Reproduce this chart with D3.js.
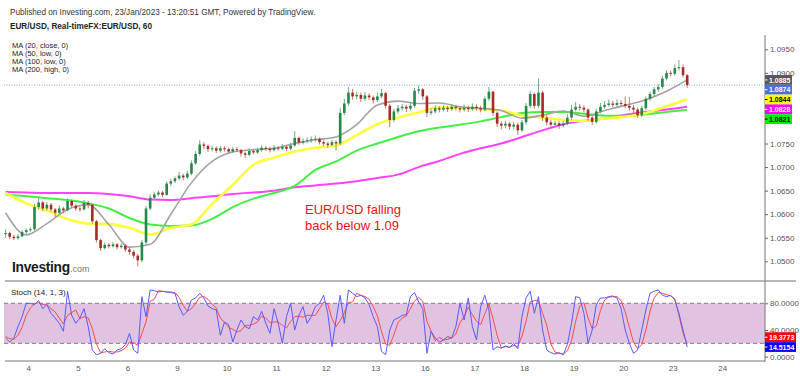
<!DOCTYPE html>
<html>
<head>
<meta charset="utf-8">
<script src="https://d3js.org/d3.v7.min.js"></script>
<style>
  body { margin: 0; background: #fff; }
  svg { display: block; font-family: Arial, "Liberation Sans", sans-serif; }
  .axis text { font-size: 8px; fill: #555; }
  .axis line { stroke: #666; }
</style>
</head>
<body>
<div id="chart"></div>
<script>
// trading days shown on the time axis
const days = ['4', '5', '6', '9', '10', '11', '12', '13', '16', '17', '18', '19', '20', '23', '24'];

// 2-hour candles (open = previous close)
const firstOpen = 1.0558;
const closes = [
  1.0560, 1.0552, 1.0549, 1.0553, 1.0562, 1.0566, 1.0568, 1.0615, 1.0625, 1.0612,
  1.0620, 1.0610, 1.0603, 1.0612, 1.0608, 1.0628, 1.0618, 1.0612, 1.0610, 1.0624,
  1.0620, 1.0585, 1.0545, 1.0528, 1.0535, 1.0532, 1.0536, 1.0530, 1.0533, 1.0525,
  1.0520, 1.0512, 1.0502, 1.0540, 1.0612, 1.0635, 1.0642, 1.0646, 1.0641, 1.0665,
  1.0670, 1.0676, 1.0682, 1.0678, 1.0686, 1.0708, 1.0728, 1.0748, 1.0745, 1.0738,
  1.0740, 1.0735, 1.0740, 1.0738, 1.0733, 1.0738, 1.0736, 1.0729, 1.0726, 1.0734,
  1.0731, 1.0736, 1.0741, 1.0739, 1.0736, 1.0741, 1.0739, 1.0743, 1.0739, 1.0746,
  1.0762, 1.0752, 1.0755, 1.0757, 1.0759, 1.0760, 1.0753, 1.0750, 1.0747, 1.0753,
  1.0750, 1.0815, 1.0835, 1.0858, 1.0850, 1.0853, 1.0845, 1.0852, 1.0848, 1.0842,
  1.0850, 1.0857, 1.0830, 1.0800, 1.0818, 1.0825, 1.0828, 1.0824, 1.0830, 1.0862,
  1.0865, 1.0850, 1.0815, 1.0818, 1.0825, 1.0822, 1.0826, 1.0823, 1.0828, 1.0825,
  1.0822, 1.0826, 1.0823, 1.0828, 1.0825, 1.0822, 1.0845, 1.0860, 1.0815, 1.0792,
  1.0788, 1.0792, 1.0786, 1.0790, 1.0778, 1.0795, 1.0830, 1.0855, 1.0830, 1.0858,
  1.0805, 1.0795, 1.0790, 1.0793, 1.0788, 1.0792, 1.0805, 1.0822, 1.0828, 1.0826,
  1.0822, 1.0805, 1.0796, 1.0818, 1.0828, 1.0832, 1.0835, 1.0832, 1.0836, 1.0834,
  1.0830, 1.0826, 1.0822, 1.0810, 1.0825, 1.0845, 1.0855, 1.0865, 1.0870, 1.0888,
  1.0900, 1.0898, 1.0910, 1.0912, 1.0895, 1.0874
];
const highs = [
  1.0568, 1.0563, 1.0556, 1.0558, 1.0566, 1.0570, 1.0572, 1.0622, 1.0634, 1.0628,
  1.0626, 1.0624, 1.0613, 1.0618, 1.0616, 1.0634, 1.0631, 1.0621, 1.0617, 1.0630,
  1.0628, 1.0622, 1.0588, 1.0548, 1.0540, 1.0539, 1.0541, 1.0539, 1.0538, 1.0536,
  1.0530, 1.0524, 1.0516, 1.0545, 1.0618, 1.0642, 1.0647, 1.0650, 1.0649, 1.0670,
  1.0675, 1.0680, 1.0690, 1.0686, 1.0692, 1.0714, 1.0734, 1.0757, 1.0753, 1.0748,
  1.0746, 1.0744, 1.0745, 1.0744, 1.0741, 1.0743, 1.0742, 1.0739, 1.0733, 1.0740,
  1.0738, 1.0741, 1.0746, 1.0745, 1.0743, 1.0747, 1.0744, 1.0749, 1.0747, 1.0752,
  1.0776, 1.0765, 1.0761, 1.0763, 1.0765, 1.0767, 1.0763, 1.0757, 1.0754, 1.0758,
  1.0757, 1.0826, 1.0845, 1.0870, 1.0866, 1.0860, 1.0858, 1.0860, 1.0857, 1.0852,
  1.0858, 1.0866, 1.0860, 1.0834, 1.0824, 1.0832, 1.0834, 1.0832, 1.0838, 1.0868,
  1.0873, 1.0868, 1.0853, 1.0825, 1.0831, 1.0829, 1.0832, 1.0830, 1.0834, 1.0832,
  1.0829, 1.0833, 1.0830, 1.0835, 1.0833, 1.0830, 1.0850, 1.0870, 1.0862, 1.0818,
  1.0797, 1.0798, 1.0796, 1.0796, 1.0794, 1.0800, 1.0836, 1.0862, 1.0858, 1.0888,
  1.0862, 1.0810, 1.0800, 1.0798, 1.0797, 1.0798, 1.0812, 1.0832, 1.0838, 1.0834,
  1.0831, 1.0825, 1.0810, 1.0824, 1.0836, 1.0840, 1.0843, 1.0841, 1.0844, 1.0842,
  1.0850, 1.0848, 1.0832, 1.0826, 1.0830, 1.0850, 1.0860, 1.0870, 1.0876, 1.0894,
  1.0906, 1.0905, 1.0918, 1.0927, 1.0918, 1.0898
];
const lows = [
  1.0550, 1.0547, 1.0545, 1.0546, 1.0551, 1.0558, 1.0563, 1.0565, 1.0610, 1.0606,
  1.0608, 1.0605, 1.0594, 1.0600, 1.0602, 1.0606, 1.0613, 1.0607, 1.0605, 1.0608,
  1.0612, 1.0580, 1.0540, 1.0522, 1.0525, 1.0527, 1.0529, 1.0525, 1.0527, 1.0520,
  1.0514, 1.0506, 1.0489, 1.0498, 1.0536, 1.0608, 1.0630, 1.0638, 1.0636, 1.0639,
  1.0660, 1.0666, 1.0672, 1.0672, 1.0675, 1.0683, 1.0704, 1.0724, 1.0738, 1.0732,
  1.0733, 1.0730, 1.0731, 1.0733, 1.0728, 1.0730, 1.0731, 1.0722, 1.0719, 1.0723,
  1.0727, 1.0728, 1.0733, 1.0734, 1.0731, 1.0733, 1.0735, 1.0736, 1.0734, 1.0736,
  1.0743, 1.0747, 1.0748, 1.0750, 1.0752, 1.0754, 1.0748, 1.0744, 1.0741, 1.0744,
  1.0735, 1.0746, 1.0810, 1.0830, 1.0843, 1.0844, 1.0838, 1.0840, 1.0842, 1.0835,
  1.0838, 1.0846, 1.0824, 1.0785, 1.0796, 1.0813, 1.0820, 1.0817, 1.0820, 1.0826,
  1.0855, 1.0843, 1.0806, 1.0810, 1.0814, 1.0816, 1.0818, 1.0817, 1.0819, 1.0820,
  1.0816, 1.0818, 1.0817, 1.0820, 1.0820, 1.0816, 1.0819, 1.0840, 1.0808, 1.0785,
  1.0780, 1.0782, 1.0779, 1.0780, 1.0768, 1.0774, 1.0790, 1.0825, 1.0824, 1.0826,
  1.0798, 1.0788, 1.0784, 1.0785, 1.0781, 1.0784, 1.0789, 1.0800, 1.0818, 1.0820,
  1.0816, 1.0798, 1.0789, 1.0792, 1.0814, 1.0824, 1.0828, 1.0826, 1.0828, 1.0829,
  1.0825, 1.0820, 1.0815, 1.0804, 1.0806, 1.0820, 1.0840, 1.0850, 1.0860, 1.0866,
  1.0884, 1.0893, 1.0894, 1.0905, 1.0890, 1.0868
];

// moving averages, read every 5th candle
const maBars = [0, 5, 10, 15, 20, 25, 30, 35, 40, 45, 50, 55, 60, 65, 70, 75, 80,
  85, 90, 95, 100, 105, 110, 115, 120, 125, 130, 135, 140, 145, 150, 155, 160, 165];
const ma20 = [1.0603, 1.0556, 1.0580, 1.0610, 1.0620, 1.0578, 1.0530, 1.0536, 1.0600, 1.0667,
  1.0712, 1.0732, 1.0737, 1.0740, 1.0750, 1.0758, 1.0764, 1.0790, 1.0832, 1.0840,
  1.0835, 1.0836, 1.0828, 1.0825, 1.0820, 1.0804, 1.0810, 1.0819, 1.0808, 1.0820,
  1.0831, 1.0843, 1.0861, 1.0885];
const ma50 = [1.0645, 1.0623, 1.0608, 1.0590, 1.0580, 1.0579, 1.0571, 1.0557, 1.0571, 1.0578,
  1.0622, 1.0662, 1.0705, 1.0720, 1.0733, 1.0741, 1.0746, 1.0768, 1.0791, 1.0805,
  1.0816, 1.0827, 1.0826, 1.0823, 1.0820, 1.0810, 1.0805, 1.0800, 1.0798, 1.0803,
  1.0807, 1.0815, 1.0829, 1.0844];
const ma100 = [1.0641, 1.0638, 1.0634, 1.0630, 1.0623, 1.0612, 1.0592, 1.0578, 1.0575, 1.0576,
  1.0590, 1.0615, 1.0633, 1.0645, 1.0660, 1.0694, 1.0712, 1.0735, 1.0750, 1.0764,
  1.0776, 1.0784, 1.0790, 1.0797, 1.0806, 1.0815, 1.0817, 1.0817, 1.0813, 1.0809,
  1.0809, 1.0812, 1.0817, 1.0821];
const ma200 = [1.0647, 1.0646, 1.0645, 1.0645, 1.0645, 1.0643, 1.0638, 1.0631, 1.0630, 1.0634,
  1.0638, 1.0643, 1.0646, 1.0650, 1.0657, 1.0661, 1.0665, 1.0670, 1.0677, 1.0684,
  1.0700, 1.0713, 1.0728, 1.0740, 1.0750, 1.0764, 1.0778, 1.0791, 1.0798, 1.0803,
  1.0811, 1.0817, 1.0822, 1.0828];

// stochastic (14, 1, 3): %K blue, %D red, one value per candle
const stochK = [
  28, 22, 28, 45, 60, 80, 80, 78, 84, 72, 78, 65, 58, 50, 38, 98, 62, 50, 58, 72,
  45, 10, 3, 5, 12, 6, 4, 10, 12, 18, 35, 10, 5, 90, 60, 100, 99, 97, 98, 97,
  96, 95, 75, 62, 68, 85, 88, 95, 88, 76, 72, 70, 32, 52, 48, 22, 40, 55, 45, 42,
  60, 55, 68, 50, 35, 72, 50, 20, 60, 80, 40, 62, 75, 50, 60, 75, 80, 92, 65, 15,
  55, 92, 50, 100, 95, 90, 92, 88, 78, 60, 45, 8, 3, 40, 55, 58, 62, 63, 90, 96,
  82, 72, 5, 38, 28, 22, 25, 30, 28, 45, 80, 55, 88, 45, 25, 75, 92, 70, 10, 15,
  13, 16, 14, 20, 12, 60, 88, 98, 65, 90, 40, 10, 6, 4, 6, 3, 18, 50, 90, 88,
  65, 20, 40, 78, 88, 88, 90, 91, 88, 72, 40, 20, 5, 10, 40, 70, 95, 98, 100, 92,
  90, 92, 85, 65, 40, 14.5154
];
const stochD = [
  30, 27, 26, 32, 44, 62, 73, 79, 81, 78, 78, 72, 67, 58, 49, 62, 66, 70, 57, 60,
  58, 42, 19, 6, 7, 8, 7, 7, 9, 13, 22, 21, 17, 35, 52, 83, 86, 99, 98, 97,
  97, 96, 89, 77, 68, 72, 80, 89, 90, 86, 79, 73, 58, 51, 44, 41, 37, 39, 47, 47,
  49, 52, 61, 58, 51, 52, 52, 47, 43, 53, 60, 61, 59, 62, 62, 62, 72, 82, 79, 57,
  45, 54, 66, 81, 82, 95, 92, 90, 86, 75, 61, 38, 19, 17, 33, 51, 58, 61, 72, 83,
  89, 83, 53, 38, 24, 29, 25, 26, 28, 34, 51, 60, 74, 63, 53, 48, 64, 79, 57, 32,
  13, 15, 14, 17, 15, 31, 53, 82, 84, 84, 65, 47, 19, 7, 5, 4, 9, 24, 53, 76,
  81, 58, 42, 46, 69, 85, 89, 90, 90, 84, 67, 44, 22, 12, 18, 40, 68, 88, 96, 95,
  93, 91, 87, 62, 35, 19.3773
];

// price ticks left visible by the value tags
const priceTicks = [1.0500, 1.0550, 1.0600, 1.0650, 1.0700, 1.0750, 1.0900, 1.0950];
const stochTicks = [0, 40, 80];
const maLegend = ['MA (20, close, 0)', 'MA (50, low, 0)', 'MA (100, low, 0)', 'MA (200, high, 0)'];

class PriceChart {
  constructor(_config) {
    this.config = {
      parentElement: _config.parentElement,
      containerWidth: 800,
      containerHeight: 376,
      left: 4,
      axisX: 765,
      priceTop: 35,
      paneSplit: 281,
      bottom: 361,
    };
    this.initVis();
  }

  initVis() {
    let vis = this;
    const c = vis.config;

    vis.svg = d3.select(c.parentElement).append('svg')
      .attr('width', c.containerWidth)
      .attr('height', c.containerHeight);

    // trading hours since the start of the 4th, 24 per trading day
    vis.xScale = d3.scaleLinear().domain([0, 336]).range([28.3, 722.3]);
    vis.yScale = d3.scaleLinear().domain([1.05, 1.095]).range([261.3, 49.3]);
    vis.sScale = d3.scaleLinear().domain([0, 80]).range([356.7, 303.3]);
    vis.barHour = i => -12 + 2 * i + 1;

    vis.svg.append('clipPath').attr('id', 'clipMain').append('rect')
      .attr('x', c.left).attr('y', c.priceTop)
      .attr('width', c.axisX - c.left).attr('height', c.paneSplit - c.priceTop);
    vis.svg.append('clipPath').attr('id', 'clipStoch').append('rect')
      .attr('x', c.left).attr('y', c.paneSplit)
      .attr('width', c.axisX - c.left).attr('height', c.bottom - c.paneSplit);

    vis.main = vis.svg.append('g').attr('clip-path', 'url(#clipMain)');
    vis.stoch = vis.svg.append('g').attr('clip-path', 'url(#clipStoch)');

    vis.candles = closes.map((close, i) => ({
      hour: vis.barHour(i),
      open: i === 0 ? firstOpen : closes[i - 1],
      close: close,
      high: highs[i],
      low: lows[i],
    }));

    vis.renderVis();
  }

  renderVis() {
    let vis = this;
    const c = vis.config;
    const x = vis.xScale, y = vis.yScale, s = vis.sScale;

    // header texts
    vis.svg.append('text').attr('x', 10).attr('y', 14.5)
      .attr('font-size', 8.2).attr('fill', '#333')
      .text('Published on Investing.com, 23/Jan/2023 - 13:20:51 GMT, Powered by TradingView.');
    vis.svg.append('text').attr('x', 10).attr('y', 28.5)
      .attr('font-size', 8.2).attr('font-weight', 'bold').attr('fill', '#222')
      .text('EUR/USD, Real-timeFX:EUR/USD, 60');
    vis.svg.selectAll('.legend').data(maLegend).join('text')
      .attr('class', 'legend')
      .attr('x', 12).attr('y', (d, i) => 47.5 + i * 8.3)
      .attr('font-size', 7.5).attr('fill', '#222')
      .text(d => d);

    // current price dotted line
    const last = vis.candles[vis.candles.length - 1];
    vis.main.append('line')
      .attr('x1', c.left).attr('x2', c.axisX)
      .attr('y1', y(last.close)).attr('y2', y(last.close))
      .attr('stroke', '#8aa4e6').attr('stroke-width', 1)
      .attr('stroke-dasharray', '1,1.5');

    // moving averages
    const maLine = d3.line()
      .x((d, i) => x(vis.barHour(maBars[i])))
      .y(d => y(d))
      .curve(d3.curveMonotoneX);
    const maStyles = [
      { data: ma200, color: '#ff40ff', width: 2 },
      { data: ma100, color: '#44ee44', width: 2 },
      { data: ma50, color: '#ffff3c', width: 2.6 },
      { data: ma20, color: '#a3a3a3', width: 1.6 },
    ];
    vis.main.selectAll('.ma').data(maStyles).join('path')
      .attr('class', 'ma')
      .attr('d', d => maLine(d.data))
      .attr('fill', 'none')
      .attr('stroke', d => d.color)
      .attr('stroke-width', d => d.width);

    // candles
    const up = d => d.close >= d.open;
    const candle = vis.main.selectAll('.candle').data(vis.candles).join('g')
      .attr('class', 'candle');
    candle.append('line')
      .attr('x1', d => x(d.hour)).attr('x2', d => x(d.hour))
      .attr('y1', d => y(d.high)).attr('y2', d => y(d.low))
      .attr('stroke', d => up(d) ? '#6fae82' : '#c07a74')
      .attr('stroke-width', 1);
    candle.append('rect')
      .attr('x', d => x(d.hour) - 1.3)
      .attr('width', 2.6)
      .attr('y', d => y(Math.max(d.open, d.close)))
      .attr('height', d => Math.max(1, Math.abs(y(d.open) - y(d.close))))
      .attr('fill', d => up(d) ? '#25874a' : '#a82a22');

    // annotation
    vis.svg.append('text').attr('x', 305).attr('y', 214)
      .attr('font-size', 13).attr('fill', '#ee1111')
      .text('EUR/USD falling');
    vis.svg.append('text').attr('x', 305).attr('y', 229.5)
      .attr('font-size', 13).attr('fill', '#ee1111')
      .text('back below 1.09');

    // logo
    const logo = vis.svg.append('text').attr('x', 12).attr('y', 271.5);
    logo.append('tspan').attr('font-size', 13.8).attr('font-weight', 'bold')
      .attr('fill', '#1a1a1a').attr('letter-spacing', -0.3).text('Investing');
    logo.append('tspan').attr('font-size', 9).attr('fill', '#777').text('.com');

    // stochastic pane
    vis.stoch.append('rect')
      .attr('x', c.left).attr('width', c.axisX - c.left)
      .attr('y', s(80)).attr('height', s(20) - s(80))
      .attr('fill', '#dfc3e1');
    vis.stoch.selectAll('.band').data([20, 80]).join('line')
      .attr('class', 'band')
      .attr('x1', c.left).attr('x2', c.axisX)
      .attr('y1', d => s(d)).attr('y2', d => s(d))
      .attr('stroke', '#8c7490').attr('stroke-dasharray', '4,3');
    const stochLine = d3.line()
      .x((d, i) => x(vis.barHour(i)))
      .y(d => s(d));
    vis.stoch.append('path').attr('d', stochLine(stochD))
      .attr('fill', 'none').attr('stroke', '#ff4a4a').attr('stroke-width', 1);
    vis.stoch.append('path').attr('d', stochLine(stochK))
      .attr('fill', 'none').attr('stroke', '#5a5aff').attr('stroke-width', 1);
    vis.svg.append('text').attr('x', 11).attr('y', 294.5)
      .attr('font-size', 8).attr('fill', '#222')
      .text('Stoch (14, 1, 3)');

    // frame lines
    vis.svg.append('line')
      .attr('x1', 5).attr('x2', 796)
      .attr('y1', c.paneSplit).attr('y2', c.paneSplit)
      .attr('stroke', '#b8b8b8').attr('stroke-width', 2);
    vis.svg.append('line')
      .attr('x1', 5).attr('x2', c.axisX)
      .attr('y1', c.bottom).attr('y2', c.bottom)
      .attr('stroke', '#777').attr('stroke-width', 1);
    vis.svg.append('line')
      .attr('x1', c.axisX).attr('x2', c.axisX)
      .attr('y1', c.priceTop).attr('y2', c.bottom + 1)
      .attr('stroke', '#777').attr('stroke-width', 1);

    // axes
    const yAxis = d3.axisRight(y).tickValues(priceTicks)
      .tickSize(3).tickPadding(2).tickFormat(d3.format('.4f'));
    vis.svg.append('g').attr('class', 'axis')
      .attr('transform', `translate(${c.axisX},0)`)
      .call(yAxis).call(g => g.select('.domain').remove());
    const sAxis = d3.axisRight(s).tickValues(stochTicks)
      .tickSize(3).tickPadding(2).tickFormat(d3.format('.4f'));
    vis.svg.append('g').attr('class', 'axis')
      .attr('transform', `translate(${c.axisX},0)`)
      .call(sAxis).call(g => g.select('.domain').remove());
    const xAxis = d3.axisBottom(x).tickValues(days.map((d, i) => i * 24))
      .tickSize(0).tickPadding(4).tickFormat((d, i) => days[i]);
    vis.svg.append('g').attr('class', 'axis')
      .attr('transform', `translate(0,${c.bottom})`)
      .call(xAxis).call(g => g.select('.domain').remove());

    // last value labels, stacked so they do not overlap
    const priceLabels = [
      { v: ma20[ma20.length - 1], fill: '#595959', txt: '#fff' },
      { v: last.close, fill: '#4b6fe0', txt: '#fff' },
      { v: ma50[ma50.length - 1], fill: '#ffff00', txt: '#000' },
      { v: ma200[ma200.length - 1], fill: '#ff00ff', txt: '#fff' },
      { v: ma100[ma100.length - 1], fill: '#00ee00', txt: '#000' },
    ].sort((a, b) => b.v - a.v);
    let prev = -Infinity;
    priceLabels.forEach(d => {
      d.y = Math.max(y(d.v), prev + 9.8);
      prev = d.y;
      d.label = d3.format('.4f')(d.v);
    });
    const stochLabels = [
      { v: stochK[stochK.length - 1], fill: '#0000ff', txt: '#fff' },
      { v: stochD[stochD.length - 1], fill: '#ff0000', txt: '#fff' },
    ].sort((a, b) => a.v - b.v);
    prev = Infinity;
    stochLabels.forEach(d => {
      d.y = Math.min(s(d.v), prev - 9.8);
      prev = d.y;
      d.label = d3.format('.4f')(d.v);
    });

    const tags = vis.svg.selectAll('.tag').data(priceLabels.concat(stochLabels)).join('g')
      .attr('class', 'tag')
      .attr('transform', d => `translate(${c.axisX},${d.y})`);
    tags.append('rect')
      .attr('x', 0).attr('y', -4.9).attr('height', 9.8)
      .attr('width', d => d.label.length > 6 ? 31 : 27)
      .attr('fill', d => d.fill);
    tags.append('line')
      .attr('x1', 0).attr('x2', 2.5).attr('y1', 0).attr('y2', 0)
      .attr('stroke', d => d.txt);
    tags.append('text')
      .attr('x', 4).attr('y', 2.6)
      .attr('font-size', 7).attr('font-weight', 'bold')
      .attr('fill', d => d.txt)
      .text(d => d.label);
  }
}

new PriceChart({ parentElement: '#chart' });
</script>
</body>
</html>
